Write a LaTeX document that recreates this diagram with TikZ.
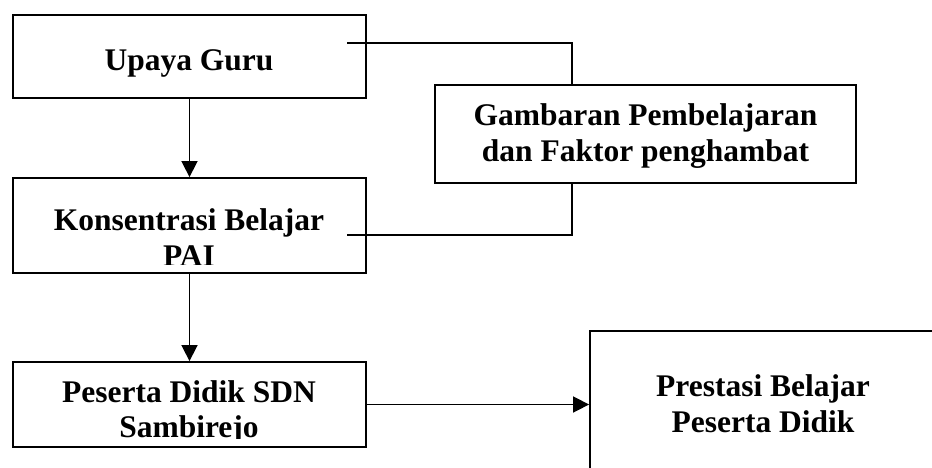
\documentclass[tikz,border=0pt]{standalone}
\usepackage{fontspec}
\setmainfont{Liberation Serif}
\usetikzlibrary{arrows.meta}
\begin{document}
\begin{tikzpicture}[x=1pt,y=-1pt,
  box/.style={draw,line width=1.8pt,rectangle,inner sep=0pt},
  txt/.style={anchor=base,inner sep=0pt,font=\fontsize{31.5}{36}\selectfont\bfseries},
  conn/.style={line width=1.6pt},
  arr/.style={line width=1.6pt,-{Triangle[width=16pt,length=16pt]}}]
\path[use as bounding box] (0,0) rectangle (932,468);
\clip (0,0) rectangle (932,468);
% boxes
\node[box,minimum width=353pt,minimum height=83pt] (upaya) at (189.5,56.5) {};
\node[box,minimum width=421pt,minimum height=98pt] (gam) at (645.5,134) {};
\node[box,minimum width=353pt,minimum height=95pt] (kon) at (189.5,225.5) {};
\node[box,minimum width=353pt,minimum height=85pt] (pes) at (189.5,404.5) {};
\node[box,minimum width=346pt,minimum height=149pt] (pres) at (763,405.5) {};
% texts
\node[txt] (t1) at (189,71) {Upaya Guru};
\node[txt] (t2) at (645.5,126) {Gambaran Pembelajaran};
\node[txt] (t3) at (645.5,162) {dan Faktor penghambat};
\begin{scope}
\clip (kon.north west) rectangle ([yshift=9pt]kon.south east);
\node[txt] (t4) at (189,230) {Konsentrasi Belajar};
\node[txt] (t5) at (189,266) {PAI};
\end{scope}
\begin{scope}
\clip (pes.north west) rectangle ([yshift=9pt]pes.south east);
\node[txt] (t6) at (189,402) {Peserta Didik SDN};
\node[txt] (t7) at (189,437) {Sambirejo};
\end{scope}
\node[txt] (t8) at (763,396) {Prestasi Belajar};
\node[txt] (t9) at (763,432) {Peserta Didik};
% connectors
\draw[arr] (upaya.south) -- (kon.north);
\draw[arr] (kon.south) -- (pes.north);
\draw[arr] (pes.east) -- (pes.east -| pres.west);
\coordinate (c1) at (347,43);
\coordinate (g1) at (572,85);
\coordinate (g2) at (572,183);
\coordinate (c2) at (347,235);
\draw[conn] (c1) -| (g1);
\draw[conn] (g2) |- (c2);
\end{tikzpicture}
\end{document}
